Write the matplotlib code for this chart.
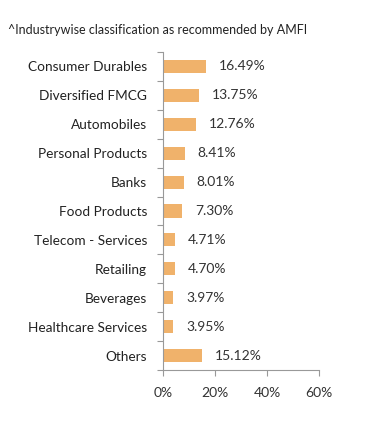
import matplotlib.pyplot as plt
from matplotlib.ticker import FixedLocator, PercentFormatter

plt.rcParams['font.family'] = ['Lato', 'DejaVu Sans']

# Data
sectors = ['Consumer Durables', 'Diversified FMCG', 'Automobiles', 'Personal Products',
           'Banks', 'Food Products', 'Telecom - Services', 'Retailing', 'Beverages',
           'Healthcare Services', 'Others']
weights = [16.49, 13.75, 12.76, 8.41, 8.01, 7.30, 4.71, 4.70, 3.97, 3.95, 15.12]
xticks = [0, 20, 40, 60]

W, H = 391, 424
fig = plt.figure(figsize=(W / 100, H / 100), dpi=100)
ax = fig.add_axes([163 / W, 1 - 370 / H, (319 - 163) / W, (370 - 52) / H])

pos = list(range(len(sectors)))
ax.barh(pos, weights, height=0.45, color='#F0B26B')
for p, v in zip(pos, weights):
    ax.text(v + 5, p, f'{v:.2f}%', va='center', ha='left', fontsize=10, color='#333333')

ax.set_ylim(len(sectors) - 0.5, -0.5)
ax.set_xlim(0, 60)

ax.yaxis.set_major_locator(FixedLocator([i - 0.5 for i in range(len(sectors) + 1)]))
ax.yaxis.set_major_formatter(plt.NullFormatter())
ax.yaxis.set_minor_locator(FixedLocator(pos))
ax.set_yticklabels(sectors, minor=True)
ax.tick_params(axis='y', which='major', length=4, color='#999999', direction='out')
ax.tick_params(axis='y', which='minor', length=0, pad=11.5, labelsize=9.8, labelcolor='#222222')

ax.set_xticks(xticks)
ax.xaxis.set_major_formatter(PercentFormatter(decimals=0))
ax.tick_params(axis='x', length=4, color='#999999', labelsize=10, labelcolor='#333333', pad=8)

for s in ['top', 'right']:
    ax.spines[s].set_visible(False)
ax.spines['left'].set_color('#999999')
ax.spines['bottom'].set_color('#999999')

fig.text(8 / W, 1 - 30 / H, '^Industrywise classification as recommended by AMFI',
         fontsize=9, color='#222222', va='center', ha='left')

fig.savefig('out.png', dpi=100)
